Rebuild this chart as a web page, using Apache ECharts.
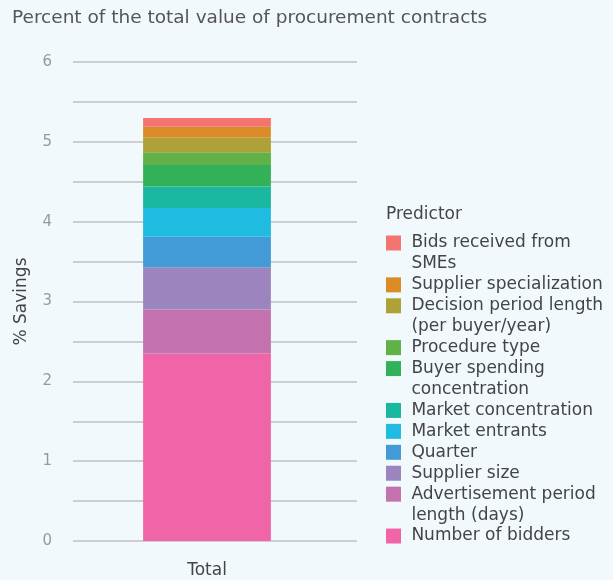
<!DOCTYPE html>
<html>
<head>
<meta charset="utf-8">
<script src="https://cdn.jsdelivr.net/npm/echarts@6/dist/echarts.min.js"></script>
<style>
html,body{margin:0;padding:0;background:#f2f9fc;}
#chart{width:613px;height:580px;}
</style>
</head>
<body>
<div id="chart"></div>
<script>
// Data (bottom of stack first)
var categories = ['Total'];
var seriesNames = [
  'Number of bidders',
  'Advertisement period length (days)',
  'Supplier size',
  'Quarter',
  'Market entrants',
  'Market concentration',
  'Buyer spending concentration',
  'Procedure type',
  'Decision period length (per buyer/year)',
  'Supplier specialization',
  'Bids received from SMEs'
];
var seriesValues = [2.35, 0.55, 0.53, 0.38, 0.36, 0.27, 0.27, 0.16, 0.18, 0.14, 0.11];
var legendLabels = [
  'Number of bidders',
  'Advertisement period\nlength (days)',
  'Supplier size',
  'Quarter',
  'Market entrants',
  'Market concentration',
  'Buyer spending\nconcentration',
  'Procedure type',
  'Decision period length\n(per buyer/year)',
  'Supplier specialization',
  'Bids received from\nSMEs'
];
var yTicks = [0, 1, 2, 3, 4, 5, 6];
var colors = ['#f065a8', '#c472ad', '#9c85bf', '#429bd6', '#1fbbe0', '#1bb8a1', '#33b158', '#61b148', '#aca237', '#da8d26', '#f37470'];

var FONT = 'DejaVu Sans';
var chart = echarts.init(document.getElementById('chart'), null, {renderer: 'canvas'});

var series = seriesNames.map(function (n, i) {
  return {
    name: n,
    type: 'bar',
    stack: 'total',
    xAxisIndex: 1,
    yAxisIndex: 1,
    barWidth: '45%',
    data: [seriesValues[i]],
    itemStyle: {color: colors[i]},
    emphasis: {disabled: true}
  };
});

// Legend: one component per item, top to bottom (reverse of stack order)
var legends = [];
var lineH = 20.93;
var y = 243; // centre of first legend row
for (var k = seriesNames.length - 1; k >= 0; k--) {
  var parts = legendLabels[k].split('\n');
  var lines = parts.length;
  var txt = parts.map(function (p) { return ' ' + p; }).join('\n');
  if (lines > 1) { txt = '\n' + txt; } // blank line above keeps first line centred on the icon
  legends.push({
    left: 386,
    top: lines > 1 ? y - 1.5 * lineH : y - lineH / 2,
    padding: 0,
    itemGap: 0,
    itemWidth: 15,
    itemHeight: 15,
    icon: 'rect',
    selectedMode: false,
    data: [seriesNames[k]],
    formatter: (function (lbl) { return function () { return lbl; }; })(txt),
    textStyle: {
      fontFamily: FONT, fontSize: 17, color: '#444', lineHeight: lineH
    }
  });
  y += lines * lineH;
}

var option = {
  backgroundColor: '#f2f9fc',
  animation: false,
  title: [{
    text: 'Percent of the total value of procurement contracts',
    left: 12, top: 9, padding: 0,
    textStyle: {fontFamily: FONT, fontSize: 18.5, fontWeight: 'normal', color: '#555'}
  }, {
    text: 'Predictor',
    left: 386, top: 206, padding: 0,
    textStyle: {fontFamily: FONT, fontSize: 17, fontWeight: 'normal', color: '#444'}
  }],
  legend: legends,
  grid: [
    {left: 73, right: 256, top: 62, bottom: 39, containLabel: false},
    {left: 65, right: 264, top: 62, bottom: 39, containLabel: false}
  ],
  xAxis: [{
    type: 'category', gridIndex: 0, data: categories, show: false
  }, {
    type: 'category',
    gridIndex: 1,
    data: categories,
    axisLine: {show: false},
    axisTick: {show: false},
    axisLabel: {fontFamily: FONT, fontSize: 17, color: '#444', margin: 21}
  }],
  yAxis: [{
    type: 'value',
    gridIndex: 0,
    min: 0, max: 6, interval: 0.5,
    name: '% Savings',
    nameLocation: 'middle',
    nameGap: 43,
    nameTextStyle: {fontFamily: FONT, fontSize: 17, color: '#444'},
    axisLine: {show: false},
    axisTick: {show: false},
    axisLabel: {
      fontFamily: FONT, fontSize: 15, color: '#999', margin: 21,
      formatter: function (v) { return yTicks.indexOf(v) >= 0 ? String(v) : ''; }
    },
    splitLine: {lineStyle: {color: '#bfbfc1', width: 1.5}}
  }, {
    type: 'value',
    gridIndex: 1,
    min: 0, max: 6, interval: 0.5,
    show: false,
    splitLine: {show: false}
  }],
  series: series
};
chart.setOption(option);
</script>
</body>
</html>
